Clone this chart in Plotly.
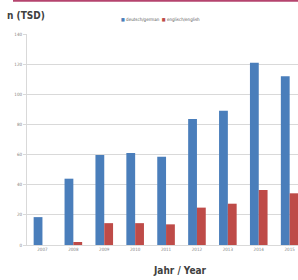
import plotly.graph_objects as go

years = ["2007", "2008", "2009", "2010", "2011", "2012", "2013", "2014", "2015"]
german = [18.5, 44, 59.7, 61, 58.6, 83.6, 89.1, 121, 112]
english = [0, 2, 14.5, 14.5, 13.7, 24.8, 27.4, 36.5, 34.3]
y_ticks = [0, 20, 40, 60, 80, 100, 120, 140]

BLUE = "#4A7EBB"
RED = "#BE4B48"

W, H = 298, 280
L, R, T, B = 27, 0, 34, 35
pw = W - L - R
ph = H - T - B

def px(x):
    return (x - L) / pw

def py(y):
    return (H - B - y) / ph

fig = go.Figure()
fig.add_bar(x=years, y=german, name="deutsch/german", marker_color=BLUE, marker_line_width=0)
fig.add_bar(x=years, y=english, name="englisch/english", marker_color=RED, marker_line_width=0)

fig.update_layout(
    width=W, height=H,
    margin=dict(l=L, r=R, t=T, b=B, pad=0),
    paper_bgcolor="white", plot_bgcolor="white",
    barmode="group", bargap=0.43, bargroupgap=0,
    showlegend=False,
    font=dict(family="Liberation Sans Narrow, DejaVu Sans Condensed, Liberation Sans", color="#7f7f7f", size=5),
    xaxis=dict(range=[-0.5, 8.27], showgrid=False, showline=True, linecolor="#d9d9d9",
               ticks="", tickfont=dict(size=4.5, color="#7f7f7f"), fixedrange=True),
    yaxis=dict(range=[0, 140], tickvals=y_ticks, showgrid=True, gridcolor="#d9d9d9", gridwidth=1,
               showline=True, linecolor="#d9d9d9", zeroline=False, ticks="outside", ticklen=3,
               tickcolor="#d9d9d9", tickfont=dict(size=4.5, color="#7f7f7f")),
)

fig.add_annotation(text="<b>n (TSD)</b>", xref="paper", yref="paper", x=px(5), y=py(15),
                   xanchor="left", yanchor="middle", showarrow=False,
                   font=dict(size=10, color="#404040", family="Liberation Sans Narrow, DejaVu Sans Condensed, Liberation Sans"))
fig.add_annotation(text="<b>Jahr / Year</b>", xref="paper", yref="paper", x=px(180), y=py(270),
                   xanchor="center", yanchor="middle", showarrow=False,
                   font=dict(size=10, color="#404040", family="Liberation Sans Narrow, DejaVu Sans Condensed, Liberation Sans"))
fig.add_annotation(text=f'<span style="color:{BLUE}">■</span> deutsch/german  <span style="color:{RED}">■</span> englisch/english',
                   xref="paper", yref="paper", x=px(119), y=py(20),
                   xanchor="left", yanchor="middle", showarrow=False,
                   font=dict(size=4.5, color="#595959"))
fig.add_shape(type="line", xref="paper", yref="paper", x0=px(13), x1=px(300), y0=py(0.8), y1=py(0.8),
              line=dict(color="#B5446E", width=2))

fig.write_html("out.html", config={"displayModeBar": False},
               post_script="document.body.style.margin='0';document.body.style.overflow='hidden';")
